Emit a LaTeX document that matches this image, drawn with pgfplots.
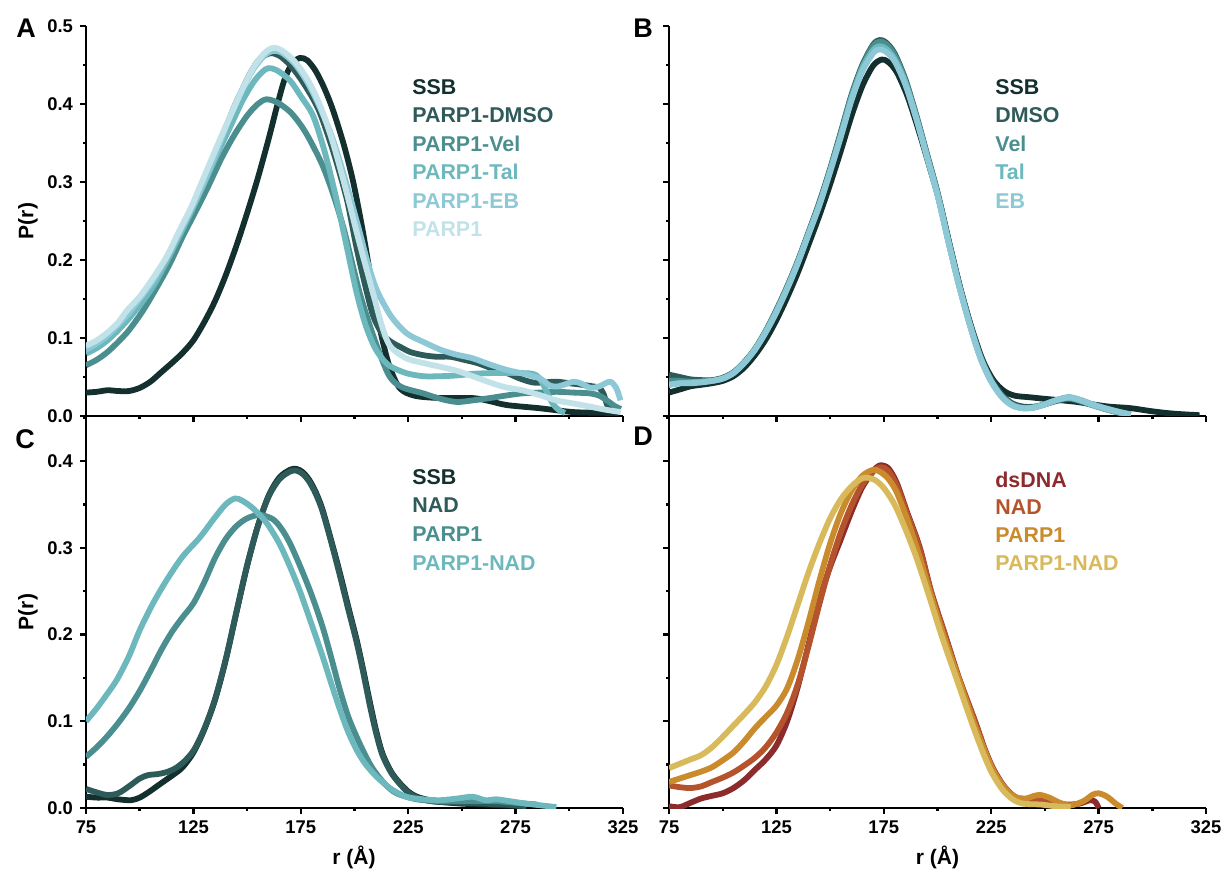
\documentclass[border=0pt]{standalone}
\usepackage{fontspec}
\setmainfont{Liberation Sans}
\usepackage{pgfplots}
\pgfplotsset{compat=1.18}

% teal family (panels A-C)
\definecolor{cSSB}{HTML}{13302F}
\definecolor{cDMSO}{HTML}{2E5B5A}
\definecolor{cVel}{HTML}{4B8E8F}
\definecolor{cTal}{HTML}{6CB8BD}
\definecolor{cEB}{HTML}{8CC8D6}
\definecolor{cPARP}{HTML}{C2E2EA}
% warm family (panel D)
\definecolor{cDNA}{HTML}{8C2B2C}
\definecolor{cNADd}{HTML}{B5542C}
\definecolor{cPARPd}{HTML}{C98B2C}
\definecolor{cPNADd}{HTML}{D8B95B}

\pgfplotsset{
  panel/.style={
    scale only axis, width=268.5pt, anchor=south west,
    xmin=75, xmax=325,
    xtick={75,125,175,225,275,325}, minor xtick={100,150,200,250,300},
    axis x line*=bottom, axis y line*=left,
    tick align=outside, major tick length=3pt, minor tick length=1.6pt,
    tick style={black, line width=1.2pt},
    axis line style={black, line width=1.3pt},
    tick label style={font=\fontsize{9.2}{10}\selectfont\bfseries},
    /pgf/number format/assume math mode=true,
    yticklabel style={/pgf/number format/.cd, fixed, fixed zerofill, precision=1},
    every axis plot/.append style={line width=2.9pt, smooth, tension=0.5, line join=round, no markers},
  },
}
\tikzset{leg/.style={anchor=west, inner sep=0pt, font=\fontsize{10.7}{12}\selectfont\bfseries}}

\begin{document}
\begin{tikzpicture}
\path[use as bounding box] (0,0) rectangle (613.5pt,434.5pt);

% ---------------- A ----------------
\begin{axis}[panel, at={(43pt,226.5pt)}, height=195pt,
  ymin=0, ymax=0.5, ytick={0,0.1,0.2,0.3,0.4,0.5},
  minor ytick={0.05,0.15,0.25,0.35,0.45}, xticklabels={}]
% SSB
\addplot[cSSB] coordinates {(75,0.030) (80,0.031) (85,0.033) (90,0.032) (95,0.032) (100,0.036) (105,0.044) (110,0.056) (115,0.068) (120,0.081) (125,0.097) (130,0.120) (135,0.147) (140,0.180) (145,0.218) (150,0.260) (155,0.305) (160,0.355) (164,0.398) (167.5,0.432) (171,0.452) (174.6,0.459) (178,0.456) (182,0.442) (186,0.420) (190,0.392) (195,0.348) (199.4,0.300) (204,0.235) (208.6,0.160) (212,0.110) (216,0.066) (221,0.036) (228,0.026) (240,0.023) (255,0.023) (263,0.019) (271,0.014) (286,0.010) (302,0.005) (317.5,0.004) (323,0.003)};
% PARP1-DMSO
\addplot[cDMSO] coordinates {(75,0.088) (80,0.095) (85,0.105) (90,0.118) (95,0.133) (100,0.150) (106,0.172) (112,0.200) (118,0.232) (124,0.265) (130,0.300) (136,0.340) (143.4,0.392) (148,0.420) (152,0.442) (156,0.458) (160.7,0.465) (165,0.462) (170,0.450) (175,0.432) (180,0.410) (184,0.388) (190,0.340) (196.5,0.277) (201,0.215) (205.8,0.158) (209,0.126) (213,0.105) (217,0.095) (221,0.089) (226,0.082) (232,0.078) (238,0.076) (244.5,0.076) (251,0.072) (257,0.068) (264,0.061) (271,0.055) (277,0.048) (283,0.043) (288,0.043) (294,0.044) (300,0.042) (306,0.040) (311,0.038) (314,0.036) (316,0.028) (318,0.012) (321,0.008)};
% PARP1-Vel
\addplot[cVel] coordinates {(75,0.065) (80,0.072) (85,0.082) (90,0.095) (95,0.110) (101.5,0.135) (108,0.165) (114,0.195) (120,0.230) (126,0.262) (132,0.295) (138,0.330) (144,0.360) (150,0.385) (155,0.400) (159,0.406) (164,0.402) (170,0.390) (175,0.373) (179,0.355) (185,0.322) (190,0.285) (195,0.240) (199,0.195) (202.5,0.157) (207,0.117) (212,0.078) (216.5,0.050) (222,0.037) (232,0.029) (240,0.022) (247.6,0.018) (255,0.020) (263,0.023) (270,0.026) (278,0.029) (286,0.030) (294,0.031) (302,0.030) (309.6,0.029) (314,0.026) (318,0.019) (321,0.013) (324,0.009)};
% PARP1-Tal
\addplot[cTal] coordinates {(75,0.080) (80,0.087) (85,0.097) (90,0.110) (95,0.125) (100,0.142) (106,0.165) (112,0.195) (118,0.228) (124,0.262) (130,0.298) (136,0.335) (142,0.370) (148,0.405) (153,0.428) (157,0.441) (160,0.446) (164,0.443) (170,0.430) (175,0.410) (180.7,0.385) (186,0.340) (191,0.285) (196,0.222) (201,0.158) (205,0.118) (209,0.090) (212.5,0.075) (216.5,0.064) (224,0.055) (232,0.051) (240,0.051) (247.6,0.052) (255,0.054) (263,0.055) (270,0.055) (278,0.055) (283,0.054) (286,0.049) (289,0.034) (292,0.017) (295,0.008) (298,0.004)};
% PARP1-EB
\addplot[cEB] coordinates {(75,0.085) (80,0.093) (85,0.103) (90,0.117) (95,0.132) (100,0.150) (106,0.172) (112,0.200) (118,0.232) (124,0.265) (130,0.300) (136,0.340) (143,0.390) (148,0.420) (153,0.445) (158,0.462) (162,0.468) (166,0.466) (172,0.452) (178,0.428) (184,0.395) (190,0.354) (196,0.300) (202,0.240) (206,0.198) (210.3,0.162) (217,0.128) (224.3,0.106) (232,0.095) (240,0.085) (247,0.079) (255,0.074) (263,0.066) (271,0.059) (279,0.054) (286.4,0.048) (291,0.039) (295,0.038) (302,0.044) (306,0.041) (310,0.036) (314,0.038) (319,0.044) (322,0.035) (323.8,0.020)};
% PARP1
\addplot[cPARP] coordinates {(75,0.090) (80,0.097) (85,0.107) (90,0.120) (94,0.135) (100,0.153) (106,0.176) (112.7,0.205) (118,0.235) (124,0.268) (128,0.294) (134,0.333) (139,0.365) (143.4,0.392) (148,0.420) (153,0.447) (158,0.465) (162,0.472) (166,0.469) (172,0.455) (178,0.432) (184,0.398) (190,0.350) (196,0.290) (202,0.225) (208.6,0.158) (212.5,0.118) (216.5,0.090) (224,0.074) (232,0.068) (240,0.063) (247.6,0.058) (255,0.051) (263,0.043) (270,0.037) (278,0.033) (286,0.027) (294,0.020) (302,0.016) (309.6,0.012) (317,0.008) (324,0.005)};
\end{axis}

% ---------------- B ----------------
\begin{axis}[panel, at={(334.5pt,226.5pt)}, height=195pt,
  ymin=0, ymax=0.5, ytick={0,0.1,0.2,0.3,0.4,0.5},
  minor ytick={0.05,0.15,0.25,0.35,0.45}, xticklabels={}, yticklabels={}]
% SSB
\addplot[cSSB] coordinates {(75,0.030) (80,0.034) (85,0.038) (90,0.040) (95,0.042) (100,0.045) (105,0.051) (110,0.062) (115,0.078) (120,0.098) (125,0.123) (130,0.152) (135,0.184) (140,0.220) (145,0.257) (150,0.297) (155,0.340) (160,0.385) (165,0.423) (170,0.449) (174,0.457) (177,0.454) (181,0.441) (186,0.410) (191,0.368) (196,0.322) (201,0.274) (206,0.216) (211,0.160) (216,0.112) (221,0.072) (226,0.046) (231,0.032) (236,0.026) (243,0.024) (250,0.022) (258,0.020) (265,0.018) (272,0.015) (280,0.012) (290,0.010) (300,0.006) (310,0.003) (322,0.001)};
% DMSO
\addplot[cDMSO] coordinates {(75,0.053) (80,0.050) (85,0.047) (90,0.046) (95,0.046) (100,0.049) (105,0.056) (110,0.069) (115,0.086) (120,0.109) (125,0.136) (130,0.166) (135,0.199) (140,0.236) (145,0.274) (150,0.317) (155,0.364) (160,0.412) (165,0.450) (170,0.476) (173,0.482) (176,0.479) (180,0.465) (185,0.432) (190,0.387) (195,0.337) (200,0.287) (205,0.227) (210,0.170) (215,0.120) (220,0.077) (225,0.047) (230,0.027) (235,0.016) (240,0.012) (245,0.012) (250,0.015) (255,0.019) (261,0.022) (266,0.019) (272,0.014) (278,0.009) (285,0.004) (290,0.002)};
% Vel
\addplot[cVel] coordinates {(75,0.045) (80,0.045) (85,0.044) (90,0.044) (95,0.045) (100,0.048) (105,0.055) (110,0.068) (115,0.085) (120,0.108) (125,0.135) (130,0.165) (135,0.198) (140,0.235) (145,0.272) (150,0.315) (155,0.362) (160,0.410) (165,0.448) (170,0.474) (173,0.480) (176,0.477) (180,0.463) (185,0.430) (190,0.385) (195,0.335) (200,0.285) (205,0.225) (210,0.168) (215,0.118) (220,0.075) (225,0.045) (230,0.025) (235,0.014) (240,0.010) (245,0.011) (250,0.015) (255,0.020) (261,0.024) (266,0.021) (272,0.015) (278,0.010) (285,0.005) (290,0.002)};
% Tal
\addplot[cTal] coordinates {(75,0.040) (80,0.042) (85,0.043) (90,0.044) (95,0.045) (100,0.048) (105,0.055) (110,0.068) (115,0.085) (120,0.108) (125,0.134) (130,0.164) (135,0.197) (140,0.234) (145,0.271) (150,0.314) (155,0.360) (160,0.408) (165,0.446) (170,0.469) (173,0.474) (176,0.471) (180,0.458) (185,0.428) (190,0.384) (195,0.334) (200,0.284) (205,0.225) (210,0.168) (215,0.118) (220,0.075) (225,0.045) (230,0.025) (235,0.014) (240,0.010) (245,0.011) (250,0.015) (255,0.020) (261,0.023) (266,0.020) (272,0.014) (278,0.009) (285,0.004) (290,0.002)};
% EB
\addplot[cEB] coordinates {(75,0.040) (80,0.042) (85,0.042) (90,0.043) (95,0.045) (100,0.048) (105,0.055) (110,0.068) (115,0.085) (120,0.107) (125,0.133) (130,0.163) (135,0.196) (140,0.233) (145,0.270) (150,0.313) (155,0.358) (160,0.405) (165,0.442) (170,0.465) (173,0.470) (176,0.467) (180,0.455) (185,0.425) (190,0.382) (195,0.333) (200,0.283) (205,0.224) (210,0.167) (215,0.117) (220,0.074) (225,0.044) (230,0.024) (235,0.013) (240,0.010) (245,0.011) (250,0.015) (255,0.020) (261,0.024) (266,0.021) (272,0.015) (278,0.010) (285,0.005) (290,0.002)};
\end{axis}

% ---------------- C ----------------
\begin{axis}[panel, at={(43pt,30.5pt)}, height=196pt,
  ymin=0, ymax=0.452, ytick={0,0.1,0.2,0.3,0.4},
  minor ytick={0.05,0.15,0.25,0.35,0.45}]
% SSB
\addplot[cSSB] coordinates {(75,0.013) (80,0.012) (85,0.012) (90,0.010) (96,0.009) (100,0.012) (104,0.018) (108,0.025) (112,0.032) (116,0.039) (120,0.047) (125,0.064) (130,0.090) (135,0.124) (140,0.170) (145,0.225) (150,0.279) (155,0.325) (160,0.360) (165,0.381) (170,0.390) (173,0.391) (176,0.387) (179,0.378) (182,0.364) (185,0.345) (189,0.310) (193,0.273) (197,0.233) (201,0.194) (204,0.160) (207,0.124) (210,0.090) (213,0.063) (217,0.042) (221,0.029) (225,0.019) (229,0.013) (235,0.009) (240,0.007) (250,0.005) (260,0.004) (270,0.003) (280,0.002)};
% NAD
\addplot[cDMSO] coordinates {(75,0.022) (80,0.018) (85,0.015) (90,0.017) (95,0.025) (100,0.034) (104,0.038) (108,0.039) (112,0.041) (116,0.045) (120,0.052) (125,0.066) (130,0.091) (135,0.125) (140,0.171) (145,0.226) (150,0.280) (155,0.325) (160,0.359) (165,0.379) (170,0.388) (173,0.389) (176,0.385) (179,0.376) (182,0.362) (185,0.343) (189,0.308) (193,0.270) (197,0.230) (201,0.191) (204,0.157) (207,0.120) (210,0.087) (213,0.061) (217,0.041) (221,0.028) (225,0.018) (229,0.012) (235,0.008) (240,0.007) (250,0.006) (260,0.005) (270,0.004) (280,0.002)};
% PARP1
\addplot[cVel] coordinates {(75,0.059) (80,0.070) (85,0.083) (90,0.098) (95,0.115) (100,0.135) (105,0.158) (110,0.182) (115,0.203) (120,0.220) (125,0.236) (130,0.260) (135,0.288) (140,0.310) (145,0.325) (150,0.334) (156,0.338) (162,0.333) (166,0.322) (170,0.305) (175,0.277) (180,0.246) (185,0.210) (189,0.175) (193,0.138) (197,0.106) (201,0.082) (205,0.061) (208.6,0.045) (214,0.028) (219.6,0.017) (229,0.010) (240,0.008) (255,0.008) (265,0.008) (275,0.006) (285,0.004)};
% PARP1-NAD
\addplot[cTal] coordinates {(75,0.100) (80,0.115) (85,0.132) (89.4,0.148) (95,0.175) (100,0.205) (106,0.235) (112.6,0.263) (120,0.290) (128,0.312) (135,0.335) (140,0.350) (144.4,0.357) (148,0.354) (153,0.345) (159,0.329) (165,0.305) (170,0.278) (174.6,0.250) (180,0.212) (185,0.176) (189,0.145) (193,0.115) (197,0.088) (201,0.067) (205,0.051) (210.3,0.036) (217,0.022) (224,0.013) (232,0.010) (240,0.009) (248,0.011) (255,0.013) (261,0.009) (266,0.010) (272,0.008) (280,0.005) (287,0.003) (294,0.001)};
\end{axis}

% ---------------- D ----------------
\begin{axis}[panel, at={(334.5pt,30.5pt)}, height=196pt,
  ymin=0, ymax=0.452, ytick={0,0.1,0.2,0.3,0.4},
  minor ytick={0.05,0.15,0.25,0.35,0.45}, yticklabels={}]
% dsDNA
\addplot[cDNA] coordinates {(75,0.002) (80,0.001) (85,0.006) (90,0.011) (95,0.014) (100,0.017) (105,0.023) (110,0.032) (115,0.044) (120,0.056) (125,0.072) (130,0.100) (135,0.140) (140.6,0.195) (145,0.240) (150,0.278) (155,0.310) (160,0.342) (165,0.370) (170,0.388) (173,0.395) (177,0.392) (181,0.375) (186,0.340) (191.8,0.300) (197,0.250) (203.5,0.200) (210,0.150) (217.5,0.100) (222,0.068) (226,0.045) (231,0.025) (236,0.013) (241,0.009) (248,0.010) (254,0.007) (260,0.004) (266,0.005) (271,0.009) (273.5,0.007) (275,0.000)};
% NAD
\addplot[cNADd] coordinates {(75,0.026) (80,0.024) (85,0.023) (90,0.025) (95,0.030) (100,0.035) (105,0.041) (110,0.049) (115,0.058) (120,0.070) (125,0.087) (130,0.110) (135,0.143) (140,0.187) (145,0.235) (150,0.280) (155,0.318) (160,0.349) (165,0.373) (170,0.388) (173.5,0.393) (177,0.389) (181,0.372) (186,0.338) (191.8,0.298) (197,0.249) (203.5,0.199) (210,0.149) (217.5,0.099) (222,0.067) (226,0.044) (231,0.024) (236,0.012) (241,0.008) (248,0.008) (254,0.004) (260,0.001)};
% PARP1
\addplot[cPARPd] coordinates {(75,0.030) (80,0.034) (85,0.038) (90,0.042) (95,0.047) (100,0.055) (105,0.064) (110,0.077) (115,0.092) (120,0.105) (125,0.118) (130,0.138) (135,0.172) (140,0.215) (145,0.262) (150,0.305) (155,0.340) (160,0.366) (165,0.383) (170,0.390) (173,0.388) (177,0.380) (181,0.364) (186,0.332) (191,0.295) (197,0.245) (203,0.198) (210,0.148) (217,0.098) (222,0.066) (226,0.043) (231,0.024) (236,0.013) (241,0.011) (245,0.014) (248,0.015) (252,0.012) (257,0.006) (262,0.003) (268,0.008) (272,0.015) (275,0.017) (279,0.013) (283,0.005) (286,0.000)};
% PARP1-NAD
\addplot[cPNADd] coordinates {(75,0.046) (80,0.051) (85,0.056) (90,0.061) (95,0.070) (100,0.082) (105,0.095) (110,0.108) (115,0.122) (120,0.140) (125,0.165) (130,0.198) (135,0.235) (140,0.272) (145,0.305) (150,0.334) (155,0.356) (160,0.371) (164,0.379) (167,0.381) (171,0.378) (175,0.369) (180,0.350) (185,0.322) (190,0.290) (196,0.245) (202,0.198) (209,0.148) (216,0.098) (221,0.065) (225,0.042) (230,0.022) (235,0.010) (240,0.005) (248,0.004) (255,0.002) (262,0.001)};
\end{axis}

% panel letters
\node[font=\fontsize{13.5}{14}\selectfont\bfseries] at (13pt,420.5pt) {A};
\node[font=\fontsize{13.5}{14}\selectfont\bfseries] at (321.5pt,420.5pt) {B};
\node[font=\fontsize{13.5}{14}\selectfont\bfseries] at (12.5pt,215pt) {C};
\node[font=\fontsize{13.5}{14}\selectfont\bfseries] at (321.5pt,216.5pt) {D};

% axis labels
\node[rotate=90, font=\fontsize{10.5}{12}\selectfont\bfseries] at (14pt,324pt) {P(r)};
\node[rotate=90, font=\fontsize{10.5}{12}\selectfont\bfseries] at (14pt,128.5pt) {P(r)};
\node[font=\fontsize{10.5}{12}\selectfont\bfseries] at (177pt,6pt) {r (Å)};
\node[font=\fontsize{10.5}{12}\selectfont\bfseries] at (468.75pt,6pt) {r (Å)};

% legends A
\node[leg, text=cSSB]  at (206pt,391pt)   {SSB};
\node[leg, text=cDMSO] at (206pt,377pt)   {PARP1-DMSO};
\node[leg, text=cVel]  at (206pt,362.5pt) {PARP1-Vel};
\node[leg, text=cTal]  at (206pt,348.5pt) {PARP1-Tal};
\node[leg, text=cEB]   at (206pt,334pt)   {PARP1-EB};
\node[leg, text=cPARP] at (206pt,320pt)   {PARP1};
% legends B
\node[leg, text=cSSB]  at (497.5pt,391pt)   {SSB};
\node[leg, text=cDMSO] at (497.5pt,377pt)   {DMSO};
\node[leg, text=cVel]  at (497.5pt,362.5pt) {Vel};
\node[leg, text=cTal]  at (497.5pt,348.5pt) {Tal};
\node[leg, text=cEB]   at (497.5pt,334pt)   {EB};
% legends C
\node[leg, text=cSSB]  at (206pt,196pt)   {SSB};
\node[leg, text=cDMSO] at (206pt,182pt)   {NAD};
\node[leg, text=cVel]  at (206pt,167.5pt) {PARP1};
\node[leg, text=cTal]  at (206pt,153pt)   {PARP1-NAD};
% legends D
\node[leg, text=cDNA]   at (497.5pt,194.5pt) {dsDNA};
\node[leg, text=cNADd]  at (497.5pt,181pt)   {NAD};
\node[leg, text=cPARPd] at (497.5pt,167pt)   {PARP1};
\node[leg, text=cPNADd] at (497.5pt,153pt)   {PARP1-NAD};
\end{tikzpicture}
\end{document}
